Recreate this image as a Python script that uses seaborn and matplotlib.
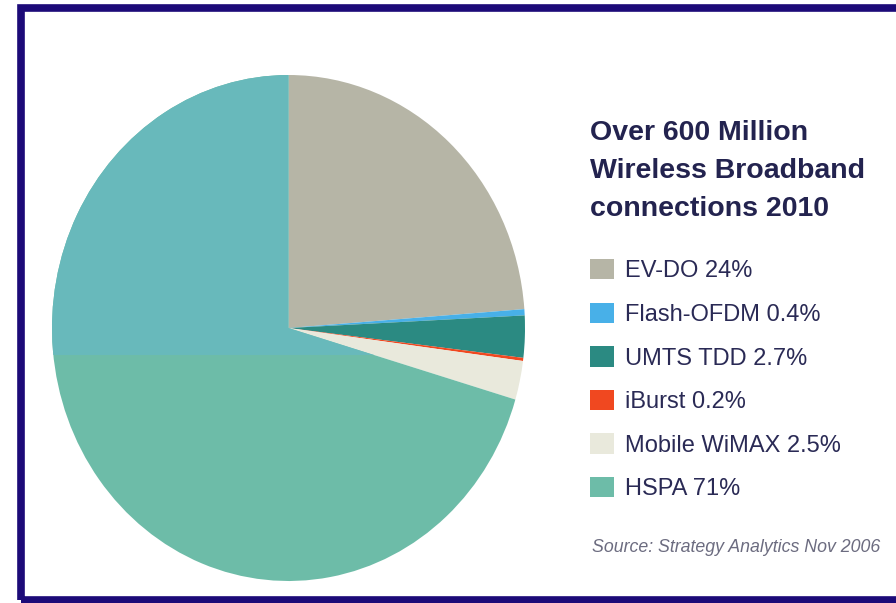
import matplotlib
matplotlib.use("Agg")
import matplotlib.pyplot as plt
from matplotlib.patches import Rectangle
import seaborn as sns

# wireless broadband share, 2010 forecast
technologies = ["EV-DO", "Flash-OFDM", "UMTS TDD", "iBurst", "Mobile WiMAX", "HSPA"]
shares = [24, 0.4, 2.7, 0.2, 2.5, 71]
share_labels = ["24%", "0.4%", "2.7%", "0.2%", "2.5%", "71%"]
colors = ["#b6b5a6", "#48b0e8", "#2b8a82", "#f04820", "#e9e9dc", "#6dbca8"]

sns.set_theme(style="white")
plt.rcParams["font.family"] = ["Liberation Sans", "DejaVu Sans"]

fig = plt.figure(figsize=(8.96, 6.03), dpi=100)
fig.patch.set_facecolor("white")

# pie is slightly taller than wide in the original, so stretch the axes
ax = fig.add_axes([52 / 896, 22 / 603, 473 / 896, 506 / 603])
wedges, _ = ax.pie(shares, colors=colors, startangle=90, counterclock=False,
                   wedgeprops=dict(linewidth=0))
ax.set_aspect("auto")
ax.set_xlim(-1, 1)
ax.set_ylim(-1, 1)
ax.axis("off")

# the upper part of the HSPA slice is a little bluer in the source image
shade = ax.axhspan(-0.107, 1.05, color="#68b9bb", linewidth=0, zorder=wedges[-1].get_zorder() + 0.1)
shade.set_clip_path(wedges[-1])

# title
fig.text(590 / 896, 1 - 120 / 603, "Over 600 Million\nWireless Broadband\nconnections 2010",
         ha="left", va="top", fontsize=20.5, fontweight="bold", color="#23234f", linespacing=1.6)

# legend
labels = [f"{t} {s}" for t, s in zip(technologies, share_labels)]
leg = fig.legend(wedges, labels, loc="upper left", bbox_to_anchor=(590 / 896, 1 - 259 / 603),
                 frameon=False, fontsize=17, handlelength=1.0, handleheight=0.95,
                 handletextpad=0.5, labelspacing=0.86, borderpad=0, borderaxespad=0)
for txt in leg.get_texts():
    txt.set_color("#2a2a55")

fig.text(880 / 896, 1 - 548 / 603, "Source: Strategy Analytics Nov 2006",
         ha="right", va="center", fontsize=12.8, style="italic", color="#6c6c80")

# dark frame round the slide
fig.patches.append(Rectangle((20.5 / 896, 1 - 600 / 603), 880 / 896, 592 / 603,
                             transform=fig.transFigure, fill=False,
                             edgecolor="#1c0a78", linewidth=5.5))

fig.savefig("out.png", dpi=100)
